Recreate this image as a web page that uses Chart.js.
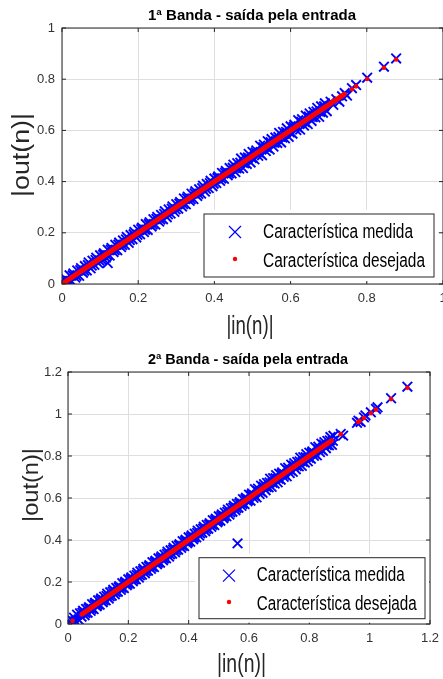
<!DOCTYPE html>
<html>
<head>
<meta charset="utf-8">
<script src="https://cdn.jsdelivr.net/npm/chart.js@4/dist/chart.umd.min.js"></script>
<style>
    body { margin: 0; background: #ffffff; }
    canvas { position: absolute; left: 0; }
    #banda1 { top: 0; }
    #banda2 { top: 340px; }
</style>
</head>
<body>
<canvas id="banda1" width="443" height="345"></canvas>
<canvas id="banda2" width="443" height="339"></canvas>
<script>
// ---- data ----
const legendaLabels = ['Característica medida', 'Característica desejada'];

const titulo1 = '1ª Banda - saída pela entrada';
const titulo2 = '2ª Banda - saída pela entrada';
const eixoX = '|in(n)|';
const eixoY = '|out(n)|';

const ticks1 = [0, 0.2, 0.4, 0.6, 0.8, 1];
const tickLabels1 = ['0', '0.2', '0.4', '0.6', '0.8', '1'];
const ticks2 = [0, 0.2, 0.4, 0.6, 0.8, 1, 1.2];
const tickLabels2 = ['0', '0.2', '0.4', '0.6', '0.8', '1', '1.2'];

// 1a banda - measured points [in, out]
const medida1 = [
    [0.00, 0.012], [0.01, 0.020], [0.02, 0.034], [0.03, 0.041], [0.04, 0.053], [0.05, 0.062],
    [0.06, 0.070], [0.07, 0.084], [0.08, 0.091], [0.09, 0.103], [0.10, 0.112], [0.11, 0.120],
    [0.12, 0.134], [0.13, 0.141], [0.14, 0.153], [0.15, 0.162], [0.16, 0.170], [0.17, 0.184],
    [0.18, 0.191], [0.19, 0.203], [0.20, 0.212], [0.21, 0.220], [0.22, 0.234], [0.23, 0.241],
    [0.24, 0.253], [0.25, 0.262], [0.26, 0.270], [0.27, 0.284], [0.28, 0.291], [0.29, 0.303],
    [0.30, 0.312], [0.31, 0.320], [0.32, 0.334], [0.33, 0.341], [0.34, 0.353], [0.35, 0.362],
    [0.36, 0.370], [0.37, 0.384], [0.38, 0.391], [0.39, 0.403], [0.40, 0.412], [0.41, 0.420],
    [0.42, 0.434], [0.43, 0.441], [0.44, 0.453], [0.45, 0.466], [0.46, 0.472], [0.47, 0.490],
    [0.48, 0.494], [0.49, 0.508], [0.50, 0.516], [0.51, 0.522], [0.52, 0.540], [0.53, 0.544],
    [0.54, 0.558], [0.55, 0.566], [0.56, 0.572], [0.57, 0.590], [0.58, 0.594], [0.59, 0.608],
    [0.60, 0.616], [0.61, 0.622], [0.62, 0.640], [0.63, 0.644], [0.64, 0.658], [0.65, 0.666],
    [0.66, 0.672], [0.67, 0.688], [0.68, 0.694], [0.69, 0.706],
    [0.008, 0.014], [0.018, 0.012], [0.028, 0.034], [0.038, 0.032], [0.048, 0.054], [0.058, 0.052],
    [0.068, 0.074], [0.078, 0.072], [0.088, 0.094], [0.098, 0.092], [0.108, 0.114], [0.118, 0.112],
    [0.128, 0.134], [0.138, 0.132], [0.148, 0.154], [0.158, 0.152], [0.168, 0.174], [0.178, 0.172],
    [0.188, 0.194], [0.198, 0.192], [0.208, 0.214], [0.218, 0.212], [0.228, 0.234], [0.238, 0.232],
    [0.248, 0.254], [0.258, 0.252], [0.268, 0.274], [0.278, 0.272], [0.288, 0.294], [0.298, 0.292],
    [0.308, 0.314], [0.318, 0.312], [0.328, 0.334], [0.338, 0.332], [0.348, 0.354], [0.358, 0.352],
    [0.368, 0.374], [0.378, 0.372], [0.388, 0.394], [0.398, 0.392], [0.408, 0.414], [0.418, 0.412],
    [0.428, 0.434], [0.438, 0.432], [0.448, 0.454], [0.458, 0.452], [0.468, 0.474], [0.478, 0.472],
    [0.488, 0.494], [0.498, 0.492], [0.508, 0.514], [0.518, 0.512], [0.528, 0.534], [0.538, 0.532],
    [0.548, 0.554], [0.558, 0.552], [0.568, 0.574], [0.578, 0.572], [0.588, 0.594], [0.598, 0.592],
    [0.608, 0.614], [0.618, 0.612], [0.628, 0.634], [0.638, 0.632], [0.648, 0.654], [0.658, 0.652],
    [0.668, 0.674], [0.678, 0.672], [0.688, 0.694],
    [0.015, 0.003], [0.025, 0.011], [0.035, 0.025], [0.045, 0.032], [0.055, 0.044], [0.065, 0.053],
    [0.075, 0.061], [0.085, 0.075], [0.095, 0.082], [0.105, 0.094], [0.115, 0.103], [0.125, 0.111],
    [0.135, 0.125], [0.145, 0.132], [0.155, 0.144], [0.165, 0.153], [0.175, 0.161], [0.185, 0.175],
    [0.195, 0.182], [0.205, 0.194], [0.215, 0.203], [0.225, 0.211], [0.235, 0.225], [0.245, 0.232],
    [0.255, 0.244], [0.265, 0.253], [0.275, 0.261], [0.285, 0.275], [0.295, 0.282], [0.305, 0.294],
    [0.315, 0.303], [0.325, 0.311], [0.335, 0.325], [0.345, 0.332], [0.355, 0.344], [0.365, 0.353],
    [0.375, 0.361], [0.385, 0.375], [0.395, 0.382], [0.405, 0.394], [0.415, 0.403], [0.425, 0.411],
    [0.435, 0.425], [0.445, 0.432], [0.455, 0.437], [0.465, 0.451], [0.475, 0.453], [0.485, 0.469],
    [0.495, 0.475], [0.505, 0.487], [0.515, 0.501], [0.525, 0.503], [0.535, 0.519], [0.545, 0.525],
    [0.555, 0.537], [0.565, 0.551], [0.575, 0.553], [0.585, 0.569], [0.595, 0.575], [0.605, 0.587],
    [0.615, 0.601], [0.625, 0.603], [0.635, 0.619], [0.645, 0.625], [0.655, 0.637], [0.665, 0.651],
    [0.675, 0.653], [0.685, 0.669], [0.695, 0.675],
    [0.000, 0.000], [0.020, 0.002], [0.120, 0.082], [0.705, 0.712], [0.712, 0.700], [0.720, 0.722],
    [0.728, 0.712], [0.735, 0.733], [0.742, 0.746], [0.748, 0.736], [0.761, 0.765], [0.772, 0.777],
    [0.801, 0.806], [0.845, 0.849], [0.877, 0.881]
];

// 1a banda - desired points [in, out]
const desejada1 = [
    [0.005, 0.005], [0.05, 0.05], [0.10, 0.10], [0.15, 0.15], [0.20, 0.20], [0.25, 0.25],
    [0.30, 0.30], [0.35, 0.35], [0.40, 0.40], [0.45, 0.45], [0.50, 0.50], [0.55, 0.55],
    [0.60, 0.60], [0.62, 0.62], [0.64, 0.64], [0.66, 0.66], [0.68, 0.68], [0.69, 0.69],
    [0.705, 0.705], [0.718, 0.718], [0.733, 0.733], [0.742, 0.742], [0.761, 0.761], [0.772, 0.772],
    [0.801, 0.801], [0.845, 0.845], [0.877, 0.877]
];

// 2a banda - measured points [in, out]
const medida2 = [
    [0.01, 0.022], [0.02, 0.030], [0.03, 0.044], [0.04, 0.051], [0.05, 0.063], [0.06, 0.072],
    [0.07, 0.080], [0.08, 0.094], [0.09, 0.101], [0.10, 0.113], [0.11, 0.122], [0.12, 0.130],
    [0.13, 0.144], [0.14, 0.151], [0.15, 0.163], [0.16, 0.172], [0.17, 0.180], [0.18, 0.194],
    [0.19, 0.201], [0.20, 0.213], [0.21, 0.222], [0.22, 0.230], [0.23, 0.244], [0.24, 0.251],
    [0.25, 0.263], [0.26, 0.272], [0.27, 0.280], [0.28, 0.294], [0.29, 0.301], [0.30, 0.313],
    [0.31, 0.322], [0.32, 0.330], [0.33, 0.344], [0.34, 0.351], [0.35, 0.363], [0.36, 0.372],
    [0.37, 0.380], [0.38, 0.394], [0.39, 0.401], [0.40, 0.413], [0.41, 0.422], [0.42, 0.430],
    [0.43, 0.444], [0.44, 0.451], [0.45, 0.463], [0.46, 0.472], [0.47, 0.480], [0.48, 0.494],
    [0.49, 0.501], [0.50, 0.513], [0.51, 0.522], [0.52, 0.530], [0.53, 0.544], [0.54, 0.551],
    [0.55, 0.563], [0.56, 0.572], [0.57, 0.580], [0.58, 0.594], [0.59, 0.601], [0.60, 0.616],
    [0.61, 0.622], [0.62, 0.642], [0.63, 0.644], [0.64, 0.659], [0.65, 0.666], [0.66, 0.672],
    [0.67, 0.692], [0.68, 0.694], [0.69, 0.709], [0.70, 0.716], [0.71, 0.722], [0.72, 0.742],
    [0.73, 0.744], [0.74, 0.759], [0.75, 0.766], [0.76, 0.772], [0.77, 0.792], [0.78, 0.794],
    [0.79, 0.809], [0.80, 0.816], [0.81, 0.822], [0.82, 0.842], [0.83, 0.844], [0.84, 0.859],
    [0.85, 0.866], [0.86, 0.872], [0.87, 0.890], [0.88, 0.896],
    [0.048, 0.054], [0.058, 0.052], [0.068, 0.074], [0.078, 0.072], [0.088, 0.094], [0.098, 0.092],
    [0.108, 0.114], [0.118, 0.112], [0.128, 0.134], [0.138, 0.132], [0.148, 0.154], [0.158, 0.152],
    [0.168, 0.174], [0.178, 0.172], [0.188, 0.194], [0.198, 0.192], [0.208, 0.214], [0.218, 0.212],
    [0.228, 0.234], [0.238, 0.232], [0.248, 0.254], [0.258, 0.252], [0.268, 0.274], [0.278, 0.272],
    [0.288, 0.294], [0.298, 0.292], [0.308, 0.314], [0.318, 0.312], [0.328, 0.334], [0.338, 0.332],
    [0.348, 0.354], [0.358, 0.352], [0.368, 0.374], [0.378, 0.372], [0.388, 0.394], [0.398, 0.392],
    [0.408, 0.414], [0.418, 0.412], [0.428, 0.434], [0.438, 0.432], [0.448, 0.454], [0.458, 0.452],
    [0.468, 0.474], [0.478, 0.472], [0.488, 0.494], [0.498, 0.492], [0.508, 0.514], [0.518, 0.512],
    [0.528, 0.534], [0.538, 0.532], [0.548, 0.554], [0.558, 0.552], [0.568, 0.574], [0.578, 0.572],
    [0.588, 0.594], [0.598, 0.592], [0.608, 0.614], [0.618, 0.612], [0.628, 0.634], [0.638, 0.632],
    [0.648, 0.654], [0.658, 0.652], [0.668, 0.674], [0.678, 0.672], [0.688, 0.694], [0.698, 0.692],
    [0.708, 0.714], [0.718, 0.712], [0.728, 0.734], [0.738, 0.732], [0.748, 0.754], [0.758, 0.752],
    [0.768, 0.774], [0.778, 0.772], [0.788, 0.794], [0.798, 0.792], [0.808, 0.814], [0.818, 0.812],
    [0.828, 0.834], [0.838, 0.832], [0.848, 0.854], [0.858, 0.852], [0.868, 0.874], [0.878, 0.872],
    [0.025, 0.013], [0.035, 0.021], [0.045, 0.035], [0.055, 0.042], [0.065, 0.054], [0.075, 0.063],
    [0.085, 0.071], [0.095, 0.085], [0.105, 0.092], [0.115, 0.104], [0.125, 0.113], [0.135, 0.121],
    [0.145, 0.135], [0.155, 0.142], [0.165, 0.154], [0.175, 0.163], [0.185, 0.171], [0.195, 0.185],
    [0.205, 0.192], [0.215, 0.204], [0.225, 0.213], [0.235, 0.221], [0.245, 0.235], [0.255, 0.242],
    [0.265, 0.254], [0.275, 0.263], [0.285, 0.271], [0.295, 0.285], [0.305, 0.292], [0.315, 0.304],
    [0.325, 0.313], [0.335, 0.321], [0.345, 0.335], [0.355, 0.342], [0.365, 0.354], [0.375, 0.363],
    [0.385, 0.371], [0.395, 0.385], [0.405, 0.392], [0.415, 0.404], [0.425, 0.413], [0.435, 0.421],
    [0.445, 0.435], [0.455, 0.442], [0.465, 0.454], [0.475, 0.463], [0.485, 0.471], [0.495, 0.485],
    [0.505, 0.492], [0.515, 0.504], [0.525, 0.513], [0.535, 0.521], [0.545, 0.535], [0.555, 0.542],
    [0.565, 0.554], [0.575, 0.563], [0.585, 0.571], [0.595, 0.585], [0.605, 0.587], [0.615, 0.601],
    [0.625, 0.603], [0.635, 0.619], [0.645, 0.625], [0.655, 0.637], [0.665, 0.651], [0.675, 0.653],
    [0.685, 0.669], [0.695, 0.675], [0.705, 0.687], [0.715, 0.701], [0.725, 0.703], [0.735, 0.719],
    [0.745, 0.725], [0.755, 0.737], [0.765, 0.751], [0.775, 0.753], [0.785, 0.769], [0.795, 0.775],
    [0.805, 0.787], [0.815, 0.801], [0.825, 0.803], [0.835, 0.819], [0.845, 0.825], [0.855, 0.837],
    [0.865, 0.851], [0.875, 0.853],
    [0.000, 0.005], [0.015, 0.000], [0.020, 0.012], [0.562, 0.384], [0.904, 0.905], [0.912, 0.897],
    [0.958, 0.958], [0.963, 0.968], [0.970, 0.962], [0.981, 0.984], [0.986, 0.993], [1.004, 1.008],
    [1.021, 1.024], [1.026, 1.032], [1.071, 1.075], [1.125, 1.130]
];

// 2a banda - desired points [in, out]
const desejada2 = [
    [0.015, 0.015], [0.045, 0.045], [0.10, 0.10], [0.15, 0.15], [0.20, 0.20], [0.25, 0.25],
    [0.30, 0.30], [0.35, 0.35], [0.40, 0.40], [0.45, 0.45], [0.50, 0.50], [0.55, 0.55],
    [0.60, 0.60], [0.65, 0.65], [0.70, 0.70], [0.75, 0.75], [0.80, 0.80], [0.85, 0.85],
    [0.874, 0.874], [0.904, 0.904], [0.962, 0.962], [0.967, 0.967], [0.981, 0.981], [1.004, 1.004],
    [1.021, 1.021], [1.071, 1.071], [1.125, 1.125]
];

// ---- styling ----
const FONT = '"Liberation Sans", Arial, Helvetica, sans-serif';
const AXIS_COLOR = '#262626';
const GRID_COLOR = '#dedede';

function drawText(ctx, text, x, y, size, bold, width, opts) {
    opts = opts || {};
    ctx.save();
    ctx.font = (bold ? 'bold ' : '') + size + 'px ' + FONT;
    ctx.fillStyle = opts.color || '#000000';
    const natural = ctx.measureText(text).width;
    ctx.translate(x, y);
    if (opts.rotate) ctx.rotate(-Math.PI / 2);
    ctx.scale(width / natural, 1);
    ctx.textAlign = opts.align || 'center';
    ctx.textBaseline = 'middle';
    ctx.fillText(text, 0, 0);
    ctx.restore();
}

// draws the axes box, titles and the legend inside the plot
const moldura = {
    id: 'moldura',
    afterDatasetsDraw(chart, args, o) {
        const ctx = chart.ctx;
        const a = chart.chartArea;
        ctx.save();
        ctx.strokeStyle = AXIS_COLOR;
        ctx.lineWidth = 1;
        ctx.strokeRect(a.left, a.top, a.right - a.left, a.bottom - a.top);
        // inward tick marks on all four sides
        const sx = chart.scales.x, sy = chart.scales.y;
        ctx.beginPath();
        sx.ticks.forEach(t => {
            const px = sx.getPixelForValue(t.value);
            ctx.moveTo(px, a.bottom); ctx.lineTo(px, a.bottom - 4);
            ctx.moveTo(px, a.top); ctx.lineTo(px, a.top + 4);
        });
        sy.ticks.forEach(t => {
            const py = sy.getPixelForValue(t.value);
            ctx.moveTo(a.left, py); ctx.lineTo(a.left + 4, py);
            ctx.moveTo(a.right, py); ctx.lineTo(a.right - 4, py);
        });
        ctx.stroke();
        ctx.restore();
    },
    afterDraw(chart, args, o) {
        const ctx = chart.ctx;
        drawText(ctx, o.titulo, o.tituloPos[0], o.tituloPos[1], 15, true, o.tituloW, { color: '#000' });
        drawText(ctx, eixoX, o.xPos[0], o.xPos[1], 25, false, o.xW, { color: '#262626' });
        drawText(ctx, eixoY, o.yPos[0], o.yPos[1], o.ySize, false, o.yW, { color: '#262626', rotate: true });

        // legend
        const b = o.legenda;
        ctx.save();
        ctx.fillStyle = '#ffffff';
        ctx.fillRect(b.x - 4, b.y - 4, b.w + 8, b.h + 8);
        ctx.strokeStyle = AXIS_COLOR;
        ctx.lineWidth = 1;
        ctx.strokeRect(b.x, b.y, b.w, b.h);
        const ds = chart.data.datasets;
        // X marker
        ctx.strokeStyle = ds[0].borderColor;
        ctx.lineWidth = 1.2;
        ctx.beginPath();
        ctx.moveTo(b.mx - 6, b.row1 - 6); ctx.lineTo(b.mx + 6, b.row1 + 6);
        ctx.moveTo(b.mx + 6, b.row1 - 6); ctx.lineTo(b.mx - 6, b.row1 + 6);
        ctx.stroke();
        // dot marker
        ctx.fillStyle = ds[1].pointBackgroundColor;
        ctx.beginPath();
        ctx.arc(b.mx, b.row2 - 2, 2.2, 0, Math.PI * 2);
        ctx.fill();
        ctx.restore();
        drawText(ctx, ds[0].label, b.tx, b.row1, 20, false, b.w1, { align: 'left' });
        drawText(ctx, ds[1].label, b.tx, b.row2, 20, false, b.w2, { align: 'left' });
    }
};

function makeChart(id, medida, desejada, ticks, tickLabels, maxV, faixa, layout, moldOpts) {
    const ctx = document.getElementById(id).getContext('2d');
    const tickOpts = {
        color: '#333333',
        font: { family: FONT, size: 13 },
        maxRotation: 0,
        autoSkip: false,
        callback: (v, i) => tickLabels[i]
    };
    return new Chart(ctx, {
        type: 'scatter',
        data: {
            datasets: [{
                label: legendaLabels[0],
                data: medida.map(p => ({ x: p[0], y: p[1] })),
                pointStyle: 'crossRot',
                pointRadius: 6.8,
                pointBorderWidth: 1.9,
                borderColor: '#0000ff',
                pointBorderColor: '#0000ff',
                backgroundColor: '#0000ff',
                order: 1
            }, {
                label: legendaLabels[1],
                data: desejada.map(p => ({ x: p[0], y: p[1] })),
                showLine: true,
                borderColor: '#ff0000',
                borderWidth: 5,
                pointRadius: 2.3,
                pointBorderWidth: 0,
                pointBackgroundColor: '#ff0000',
                segment: {
                    borderColor: c => (c.p0.parsed.x >= faixa[0] && c.p1.parsed.x <= faixa[1]) ? undefined : 'transparent'
                },
                order: 0
            }]
        },
        options: {
            responsive: false,
            animation: false,
            layout: { padding: layout.padding, autoPadding: false },
            plugins: {
                legend: { display: false },
                tooltip: { enabled: false },
                moldura: moldOpts
            },
            scales: {
                x: {
                    type: 'linear',
                    min: 0,
                    max: maxV,
                    afterBuildTicks: s => { s.ticks = ticks.map(v => ({ value: v })); },
                    ticks: Object.assign({ padding: 7 }, tickOpts),
                    grid: { color: GRID_COLOR, drawTicks: false },
                    border: { display: false },
                    afterFit: s => {
                        s.height = layout.xHeight;
                        s.paddingLeft = 0; s.paddingRight = 0;
                    }
                },
                y: {
                    type: 'linear',
                    min: 0,
                    max: maxV,
                    afterBuildTicks: s => { s.ticks = ticks.map(v => ({ value: v })); },
                    ticks: Object.assign({ padding: layout.yPad }, tickOpts),
                    grid: { color: GRID_COLOR, drawTicks: false },
                    border: { display: false },
                    afterFit: s => {
                        s.width = layout.yWidth;
                        s.paddingTop = 0; s.paddingBottom = 0;
                    }
                }
            }
        },
        plugins: [moldura]
    });
}

makeChart('banda1', medida1, desejada1, ticks1, tickLabels1, 1, [0, 0.742],
    { padding: { left: 0, top: 28, right: 0, bottom: 0 }, xHeight: 61, yWidth: 62, yPad: 7 },
    {
        titulo: titulo1, tituloPos: [252, 15.5], tituloW: 208,
        xPos: [250, 327], xW: 47,
        yPos: [23, 155], ySize: 23, yW: 84,
        legenda: { x: 204, y: 214, w: 230, h: 63, mx: 235, row1: 232, row2: 261, tx: 263, w1: 150, w2: 162 }
    });

makeChart('banda2', medida2, desejada2, ticks2, tickLabels2, 1.2, [0.045, 0.874],
    { padding: { left: 0, top: 32, right: 13, bottom: 0 }, xHeight: 55, yWidth: 68, yPad: 6 },
    {
        titulo: titulo2, tituloPos: [248, 20], tituloW: 200,
        xPos: [241.5, 325], xW: 49,
        yPos: [32, 145], ySize: 22, yW: 74,
        legenda: { x: 199, y: 217.7, w: 226, h: 61, mx: 229, row1: 235.7, row2: 264, tx: 256.7, w1: 148, w2: 160 }
    });
</script>
</body>
</html>
